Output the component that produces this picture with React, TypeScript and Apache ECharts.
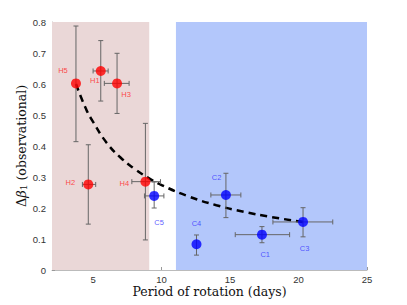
import React, { useEffect, useRef } from "react";
import * as echarts from "echarts";

const starNames = ["H5", "H1", "H3", "H2", "H4", "C5", "C4", "C2", "C1", "C3"];
const periods = [3.75, 5.56, 6.75, 4.65, 8.82, 9.46, 12.55, 14.7, 17.33, 20.33];
const deltaBeta = [0.602, 0.642, 0.602, 0.276, 0.285, 0.239, 0.083, 0.242, 0.114, 0.155];
const yLow = [0.414, 0.545, 0.505, 0.148, 0.097, 0.2, 0.048, 0.169, 0.088, 0.107];
const yHigh = [0.787, 0.74, 0.699, 0.404, 0.473, 0.284, 0.113, 0.312, 0.14, 0.201];
const xLow: (number | null)[] = [null, 5.0, 5.82, 4.22, 7.83, 8.75, null, 13.6, 15.38, 18.13];
const xHigh: (number | null)[] = [null, 6.1, 7.63, 5.19, 9.92, 10.17, null, 15.79, 19.35, 22.5];

const fitX = [3.75, 4.5, 5, 6, 7, 8, 9, 10, 12, 14, 16, 18, 20.33];
const fitY = [0.6, 0.518, 0.478, 0.41, 0.363, 0.327, 0.298, 0.274, 0.237, 0.209, 0.188, 0.171, 0.155];

const hotRange = [2, 9.1];
const coolRange = [11.05, 25];
const xTicks = [5, 10, 15, 20, 25];

// label offsets (layout only)
const labelOffsets: [number, number][] = [
  [-13, -12.5], [-6, 10], [9, 10.7], [-18, -1.6], [-21, 1.6],
  [5, 27], [0, -21], [-9.4, -17.3], [3.3, 20.3], [1.6, 27],
];

const serif = "DejaVu Serif";

export default function App() {
  const ref = useRef<HTMLDivElement>(null);
  useEffect(() => {
    if (!ref.current) return;
    document.body.style.margin = "0";
    const chart = echarts.init(ref.current, undefined, { renderer: "svg" });
    const colorOf = (n: string) => (n.startsWith("H") ? "#ff0000" : "#0000ff");
    const labelColorOf = (n: string) => (n.startsWith("H") ? "#ff2020" : "#3333ff");

    const errData = starNames.map((n, i) => [periods[i], deltaBeta[i], yLow[i], yHigh[i], xLow[i] ?? NaN, xHigh[i] ?? NaN]);

    chart.setOption({
      animation: false,
      grid: { left: 52, top: 22, right: 40, bottom: 35 },
      xAxis: {
        type: "value",
        min: 2,
        max: 25,
        name: "Period of rotation (days)",
        nameLocation: "middle",
        nameGap: 14.5,
        nameMoveOverlap: false,
        nameTextStyle: { fontFamily: serif, fontSize: 12.5, lineHeight: 13, color: "#111" },
        axisLine: { show: true, lineStyle: { color: "#bbb" } },
        axisTick: { show: true, inside: true, length: 3, customValues: xTicks, lineStyle: { color: "#999" } },
        axisLabel: { customValues: xTicks, fontSize: 9.5, lineHeight: 10, color: "#333", margin: 4, fontFamily: "Liberation Sans" },
        splitLine: { show: false },
      },
      yAxis: {
        type: "value",
        min: 0,
        max: 0.8,
        interval: 0.1,
        name: "{d|Δ}{b|β}{s|1} (observational)",
        nameLocation: "middle",
        nameGap: 24,
        nameMoveOverlap: false,
        nameTextStyle: {
          fontFamily: serif,
          fontSize: 12.5,
          color: "#111",
          rich: {
            d: { fontFamily: serif, fontSize: 13, color: "#111" },
            b: { fontFamily: serif, fontStyle: "italic", fontSize: 13, color: "#111" },
            s: { fontFamily: serif, fontSize: 9, color: "#111", verticalAlign: "bottom", padding: [5, 0, 0, 0] },
          },
        },
        axisLine: { show: true, lineStyle: { color: "#bbb" } },
        axisTick: { show: true, inside: true, length: 3, lineStyle: { color: "#999" } },
        axisLabel: { fontSize: 9.5, color: "#333", margin: 6, fontFamily: "Liberation Sans", formatter: (v: number) => (v === 0 ? "0" : v.toFixed(1)) },
        splitLine: { show: false },
      },
      series: [
        {
          type: "line",
          data: [],
          silent: true,
          markArea: {
            silent: true,
            data: [
              [{ xAxis: hotRange[0], itemStyle: { color: "#ead7d7" } }, { xAxis: hotRange[1] }],
              [{ xAxis: coolRange[0], itemStyle: { color: "#b3c7fb" } }, { xAxis: coolRange[1] }],
            ],
          },
        },
        {
          type: "line",
          data: fitX.map((x, i) => [x, fitY[i]]),
          showSymbol: false,
          smooth: true,
          lineStyle: { color: "#000", width: 2.5, type: [7, 5] },
          z: 3,
        },
        {
          type: "custom",
          data: errData,
          z: 4,
          renderItem: (params: any, api: any) => {
            const x = api.value(0), y = api.value(1);
            const lo = api.coord([x, api.value(2)]);
            const hi = api.coord([x, api.value(3)]);
            const c = api.coord([x, y]);
            const style = { stroke: "#666", lineWidth: 1 };
            const cap = 2.5;
            const children: any[] = [
              { type: "line", shape: { x1: lo[0], y1: lo[1], x2: hi[0], y2: hi[1] }, style },
              { type: "line", shape: { x1: lo[0] - cap, y1: lo[1], x2: lo[0] + cap, y2: lo[1] }, style },
              { type: "line", shape: { x1: hi[0] - cap, y1: hi[1], x2: hi[0] + cap, y2: hi[1] }, style },
            ];
            const xl = api.value(4), xh = api.value(5);
            if (!isNaN(xl) && !isNaN(xh)) {
              const l = api.coord([xl, y]);
              const h = api.coord([xh, y]);
              children.push(
                { type: "line", shape: { x1: l[0], y1: c[1], x2: h[0], y2: c[1] }, style },
                { type: "line", shape: { x1: l[0], y1: c[1] - cap, x2: l[0], y2: c[1] + cap }, style },
                { type: "line", shape: { x1: h[0], y1: c[1] - cap, x2: h[0], y2: c[1] + cap }, style },
              );
            }
            return { type: "group", children };
          },
        },
        {
          type: "scatter",
          z: 5,
          symbolSize: 10,
          data: starNames.map((n, i) => ({
            value: [periods[i], deltaBeta[i]],
            name: n,
            itemStyle: { color: colorOf(n) },
            label: {
              show: true,
              position: "inside",
              offset: labelOffsets[i],
              formatter: n,
              color: labelColorOf(n),
              fontSize: 7.5,
              fontFamily: "Liberation Sans",
            },
          })),
        },
      ],
      graphic: [
        { type: "text", x: 300, y: 43, style: { text: "cool stars (C)", fill: "#3333ff", fontSize: 8.5, fontFamily: "Liberation Sans", textVerticalAlign: "middle" } },
        { type: "text", x: 300, y: 65, style: { text: "hot stars (H)", fill: "#ff2020", fontSize: 8.5, fontFamily: "Liberation Sans", textVerticalAlign: "middle" } },
      ],
    });
    return () => chart.dispose();
  }, []);
  return <div ref={ref} style={{ width: 407, height: 305 }} />;
}
